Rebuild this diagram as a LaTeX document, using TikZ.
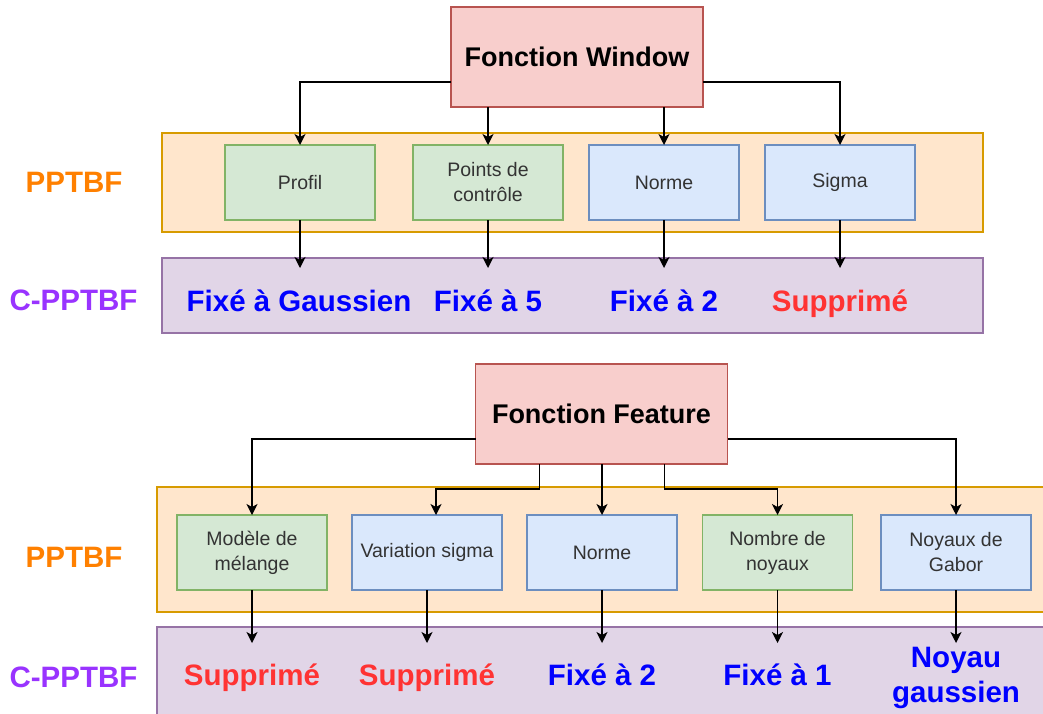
\documentclass[tikz,border=0pt]{standalone}
\usepackage{fontspec}
\setmainfont{Liberation Sans}
\usetikzlibrary{arrows.meta,calc}
\definecolor{redfill}{HTML}{F8CECC}\definecolor{redline}{HTML}{B85450}
\definecolor{orfill}{HTML}{FFE6CC}\definecolor{orline}{HTML}{D79B00}
\definecolor{grfill}{HTML}{D5E8D4}\definecolor{grline}{HTML}{82B366}
\definecolor{blfill}{HTML}{DAE8FC}\definecolor{blline}{HTML}{6C8EBF}
\definecolor{pufill}{HTML}{E1D5E7}\definecolor{puline}{HTML}{9673A6}
\definecolor{txtgray}{HTML}{333333}
\definecolor{lblor}{HTML}{FF8000}\definecolor{lblpu}{HTML}{9933FF}
\definecolor{resblue}{HTML}{0000FF}\definecolor{resred}{HTML}{FF3333}
\tikzset{
  titlebox/.style={draw=redline,fill=redfill,line width=1.3pt,minimum width=252pt,minimum height=100pt,inner sep=0pt,outer sep=0pt,font=\fontsize{27}{32}\selectfont\bfseries},
  contor/.style={draw=orline,fill=orfill,line width=1.3pt,inner sep=0pt,outer sep=0pt},
  contpu/.style={draw=puline,fill=pufill,line width=1.3pt,inner sep=0pt,outer sep=0pt},
  inbox/.style={line width=1.2pt,minimum width=150pt,minimum height=75pt,inner sep=0pt,outer sep=0pt,align=center,text=txtgray,font=\fontsize{19.5}{25}\selectfont},
  gbox/.style={inbox,draw=grline,fill=grfill},
  bbox/.style={inbox,draw=blline,fill=blfill},
  res/.style={anchor=base,inner sep=0pt,font=\fontsize{29.5}{35}\selectfont\bfseries,align=center},
  resb/.style={res,text=resblue},
  resr/.style={res,text=resred},
  lblo/.style={anchor=base,inner sep=0pt,text=lblor,font=\fontsize{29.5}{35}\selectfont\bfseries},
  lblp/.style={anchor=base,inner sep=0pt,text=lblpu,font=\fontsize{29.5}{35}\selectfont\bfseries},
  arr/.style={draw=black,line width=1.4pt,-{Stealth[length=11pt,width=11pt,inset=3pt]}}
}
\begin{document}
\begin{tikzpicture}[x=1pt,y=-1pt]
\useasboundingbox[fill=white] (0,0) rectangle (1043,713);
% ---------- top part ----------
\node[contor,minimum width=821pt,minimum height=99pt] (o1) at (572.5,182.5) {};
\node[contpu,minimum width=821pt,minimum height=75pt] (p1) at (572.5,295.5) {};
\node[titlebox] (win) at (577,57) {Fonction Window};
\node[gbox] (prof) at (300,182.5) {Profil};
\node[gbox] (pts) at (488,182.5) {Points de\\contrôle};
\node[bbox] (norm1) at (664,182.5) {Norme};
\node[bbox] (sig) at (840,182.5) {Sigma};
\node[lblo] (l1) at (74,192) {PPTBF};
\node[lblp] (l2) at (73.5,310) {C-PPTBF};
\node[resb] (r1) at (299,311) {Fixé à Gaussien};
\node[resb] (r2) at (488,311) {Fixé à 5};
\node[resb] (r3) at (664,311) {Fixé à 2};
\node[resr] (r4) at (840,311) {Supprimé};
\draw[arr] ([yshift=-25pt]win.west) -| (prof.north);
\draw[arr] ([yshift=-25pt]win.east) -| (sig.north);
\draw[arr] (win.south -| pts.north) -- (pts.north);
\draw[arr] (win.south -| norm1.north) -- (norm1.north);
\foreach \b in {prof,pts,norm1,sig}
  \draw[arr] (\b.south) -- ([yshift=-10pt]\b.south |- p1.north);
% ---------- bottom part ----------
\node[contor,minimum width=903pt,minimum height=125pt] (o2) at (608.5,549.5) {};
\node[contpu,minimum width=903pt,minimum height=113pt] (p2) at (608.5,683.5) {};
\node[titlebox] (feat) at (601.5,414) {Fonction Feature};
\node[gbox] (mod) at (252,552.5) {Modèle de\\mélange};
\node[bbox] (var) at (427,552.5) {Variation sigma};
\node[bbox] (norm2) at (602,552.5) {Norme};
\node[gbox] (nomb) at (777.5,552.5) {Nombre de\\noyaux};
\node[bbox] (gab) at (956,552.5) {Noyaux de\\Gabor};
\node[lblo] (l3) at (74,567) {PPTBF};
\node[lblp] (l4) at (73.5,687) {C-PPTBF};
\node[resr] (s1) at (252,685) {Supprimé};
\node[resr] (s2) at (427,685) {Supprimé};
\node[resb] (s3) at (602,685) {Fixé à 2};
\node[resb] (s4) at (777.5,685) {Fixé à 1};
\node[resb] (s5) at (956,702) {Noyau\\gaussien};
\draw[arr] ([yshift=-25pt]feat.west) -| (mod.north);
\draw[arr] ([yshift=-25pt]feat.east) -| (gab.north);
\draw[arr] ([xshift=-62pt]feat.south) -- ++(0,25) -| ([xshift=9pt]var.north);
\draw[arr] (feat.south -| norm2.north) -- (norm2.north);
\draw[arr] ([xshift=63pt]feat.south) -- ++(0,25) -| (nomb.north);
\foreach \b in {mod,var,norm2,nomb,gab}
  \draw[arr] (\b.south) -- ([yshift=-16pt]\b.south |- p2.north);
\end{tikzpicture}
\end{document}
